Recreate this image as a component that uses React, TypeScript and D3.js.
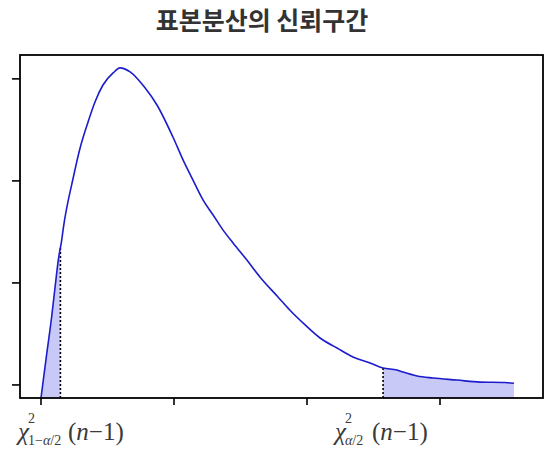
import React from "react";
import * as d3 from "d3";

const title = "표본분산의 신뢰구간";

// curve (x in chi-square units, y = density)
const curveX = [0, 0.21, 0.4, 0.53, 0.65, 0.78, 0.84, 1.21, 1.47, 1.77, 2.03, 2.33, 2.71, 2.97, 3.35, 3.91, 4.36, 4.96, 5.34, 5.71, 6.09, 6.47, 6.84, 7.22, 7.74, 8.23, 8.91, 9.36, 9.93, 10.49, 11.13, 11.73, 12.37, 12.86, 13.38, 13.61, 14.14, 14.74, 15.64, 16.5, 17.44, 17.78];
const curveY = [0, 0.0211, 0.0397, 0.0544, 0.0676, 0.0775, 0.0833, 0.1078, 0.1225, 0.1353, 0.1451, 0.1534, 0.1593, 0.1618, 0.1598, 0.152, 0.1436, 0.1279, 0.1167, 0.1069, 0.0971, 0.0897, 0.0824, 0.076, 0.0676, 0.0593, 0.0495, 0.043, 0.0358, 0.0294, 0.0245, 0.0201, 0.0172, 0.0147, 0.0137, 0.0127, 0.0108, 0.0098, 0.0088, 0.0078, 0.0076, 0.0072];

const lowerCrit = 0.73;
const upperCrit = 12.86;
const xTicks = [0, 5, 10, 15];
const yTicks = [0.0064, 0.0564, 0.1064, 0.1564];

const W = 555;
const H = 462;
const box = { left: 20, right: 543, top: 55, bottom: 398 };

function interpY(x: number): number {
  const i = d3.bisectLeft(curveX, x);
  if (i <= 0) return curveY[0];
  if (i >= curveX.length) return curveY[curveY.length - 1];
  const x0 = curveX[i - 1], x1 = curveX[i];
  const t = (x - x0) / (x1 - x0);
  return curveY[i - 1] + t * (curveY[i] - curveY[i - 1]);
}

const SERIF = "'Times New Roman', 'Liberation Serif', serif";

function Label({ x, sub, tail }: { x: number; sub: string[]; tail: number }) {
  return (
    <g fill="#3a3a3a" style={{ fontFamily: SERIF }}>
      <text x={x} y={440} fontSize={25} fontStyle="italic">χ</text>
      <text x={x + 10} y={423} fontSize={14}>2</text>
      <text x={x + 10} y={445} fontSize={14}>
        {sub.map((s, i) => (
          <tspan key={i} fontStyle={s === "α" ? "italic" : "normal"}>{s}</tspan>
        ))}
      </text>
      <text x={tail} y={440} fontSize={25}>(<tspan fontStyle="italic">n</tspan>−1)</text>
    </g>
  );
}

export default function App() {
  const xScale = d3.scaleLinear().domain([-0.789, 18.872]).range([box.left, box.right]);
  const yScale = d3.scaleLinear().domain([0, 0.1681]).range([box.bottom, box.top]);

  const pts: [number, number][] = curveX.map((x, i) => [x, curveY[i]]);
  const line = d3.line<[number, number]>().x(d => xScale(d[0])).y(d => yScale(d[1])).curve(d3.curveMonotoneX);
  const area = d3.area<[number, number]>().x(d => xScale(d[0])).y0(yScale(0)).y1(d => yScale(d[1])).curve(d3.curveMonotoneX);

  const leftPts: [number, number][] = [...pts.filter(p => p[0] < lowerCrit), [lowerCrit, interpY(lowerCrit)]];
  const rightPts: [number, number][] = [[upperCrit, interpY(upperCrit)], ...pts.filter(p => p[0] > upperCrit)];

  return (
    <svg width={W} height={H} style={{ position: "absolute", left: 0, top: 0, background: "#fff" }}>
      <text x={262} y={30} textAnchor="middle" fontFamily="Noto Sans CJK KR" fontWeight={700} fontSize={25} fill="#333">
        {title}
      </text>
      <path d={area(leftPts) || ""} fill="#c9c9f7" />
      <path d={area(rightPts) || ""} fill="#c9c9f7" />
      <line x1={xScale(lowerCrit)} x2={xScale(lowerCrit)} y1={yScale(0)} y2={yScale(interpY(lowerCrit))} stroke="#000" strokeWidth={1.6} strokeDasharray="2,2" />
      <line x1={xScale(upperCrit)} x2={xScale(upperCrit)} y1={yScale(0)} y2={yScale(interpY(upperCrit))} stroke="#000" strokeWidth={1.6} strokeDasharray="2,2" />
      <path d={line(pts) || ""} fill="none" stroke="#1c1ccc" strokeWidth={1.6} />
      <rect x={box.left} y={box.top} width={box.right - box.left} height={box.bottom - box.top} fill="none" stroke="#000" strokeWidth={1.8} />
      {yTicks.map(t => (
        <line key={"y" + t} x1={box.left - 8} x2={box.left} y1={yScale(t)} y2={yScale(t)} stroke="#000" strokeWidth={1.6} />
      ))}
      {xTicks.map(t => (
        <line key={"x" + t} x1={xScale(t)} x2={xScale(t)} y1={box.bottom} y2={box.bottom + 7} stroke="#000" strokeWidth={1.6} />
      ))}
      <Label x={18} sub={["1−", "α", "/2"]} tail={68} />
      <Label x={335} sub={["α", "/2"]} tail={372} />
    </svg>
  );
}
